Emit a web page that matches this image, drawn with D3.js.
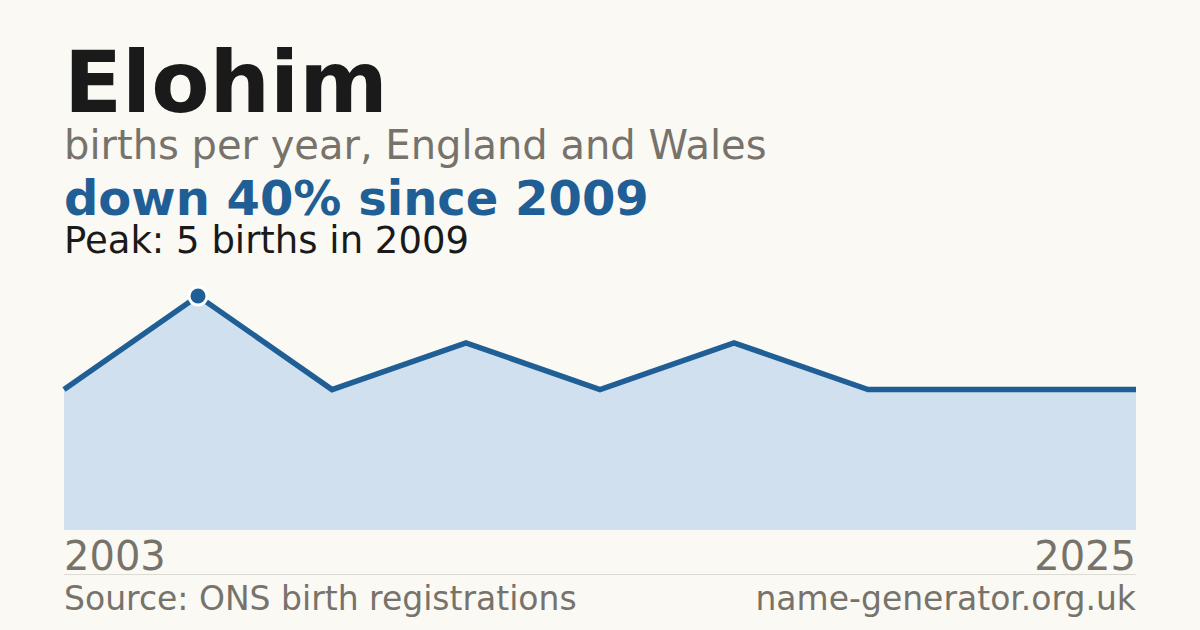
<!DOCTYPE html>
<html>
<head>
<meta charset="utf-8">
<script src="https://cdn.jsdelivr.net/npm/d3@7"></script>
<style>
  html, body { margin: 0; padding: 0; background: #faf9f4; }
  svg { display: block; font-family: "DejaVu Sans", sans-serif; }
</style>
</head>
<body>
<svg width="1200" height="630"></svg>
<script>
// births per year (only years with registrations)
var years = [2003, 2009, 2012, 2014, 2016, 2018, 2020, 2022, 2025];
var births = [3, 5, 3, 4, 3, 4, 3, 3, 3];
var axisLabels = ["2003", "2025"];

var svgWidth = 1200, svgHeight = 630;
var plotLeft = 64, plotRight = 1136, plotTop = 296, plotBottom = 530;

var svg = d3.select('svg')
  .attr("width", svgWidth)
  .attr("height", svgHeight);

svg.append("rect")
  .attr("width", svgWidth)
  .attr("height", svgHeight)
  .attr("fill", "#faf9f4");

// headings
svg.append("text").attr("x", 64).attr("y", 112)
  .attr("font-size", 85).attr("font-weight", "bold").attr("fill", "#1a1a1a")
  .text("Elohim");
svg.append("text").attr("x", 64).attr("y", 159)
  .attr("font-size", 40).attr("fill", "#77736b")
  .text("births per year, England and Wales");
svg.append("text").attr("x", 64).attr("y", 215)
  .attr("font-size", 48).attr("font-weight", "bold").attr("fill", "#1f5f96")
  .text("down 40% since 2009");
svg.append("text").attr("x", 64).attr("y", 253)
  .attr("font-size", 37).attr("fill", "#1a1a1a")
  .text("Peak: 5 births in 2009");

// scales
var x = d3.scalePoint().domain(years).range([plotLeft, plotRight]);
var y = d3.scaleLinear().domain([0, d3.max(births)]).range([plotBottom, plotTop]);

var data = years.map(function (d, i) { return { year: d, value: births[i] }; });

var area = d3.area()
  .x(function (d) { return x(d.year); })
  .y0(plotBottom)
  .y1(function (d) { return y(d.value); });

var line = d3.line()
  .x(function (d) { return x(d.year); })
  .y(function (d) { return y(d.value); });

svg.append("path").datum(data)
  .attr("d", area)
  .attr("fill", "#d0e0ef");

svg.append("path").datum(data)
  .attr("d", line)
  .attr("fill", "none")
  .attr("stroke", "#1f5f96")
  .attr("stroke-width", 5.5);

// peak marker
var peak = data[d3.maxIndex(births)];
svg.append("circle")
  .attr("cx", x(peak.year)).attr("cy", y(peak.value))
  .attr("r", 10.5).attr("fill", "#ffffff");
svg.append("circle")
  .attr("cx", x(peak.year)).attr("cy", y(peak.value))
  .attr("r", 7.5).attr("fill", "#1f5f96");

// first and last year labels
svg.append("text").attr("x", x(years[0])).attr("y", 570)
  .attr("font-size", 40).attr("fill", "#77736b")
  .text(axisLabels[0]);
svg.append("text").attr("x", x(years[years.length - 1])).attr("y", 570)
  .attr("font-size", 40).attr("fill", "#77736b").attr("text-anchor", "end")
  .text(axisLabels[1]);

// separator and footer
svg.append("line")
  .attr("x1", plotLeft).attr("x2", plotRight).attr("y1", 574.5).attr("y2", 574.5)
  .attr("stroke", "#dddad3").attr("stroke-width", 1);
svg.append("text").attr("x", 64).attr("y", 610)
  .attr("font-size", 33).attr("fill", "#77736b")
  .text("Source: ONS birth registrations");
svg.append("text").attr("x", 1136).attr("y", 610)
  .attr("font-size", 33).attr("fill", "#77736b").attr("text-anchor", "end")
  .text("name-generator.org.uk");
</script>
</body>
</html>
